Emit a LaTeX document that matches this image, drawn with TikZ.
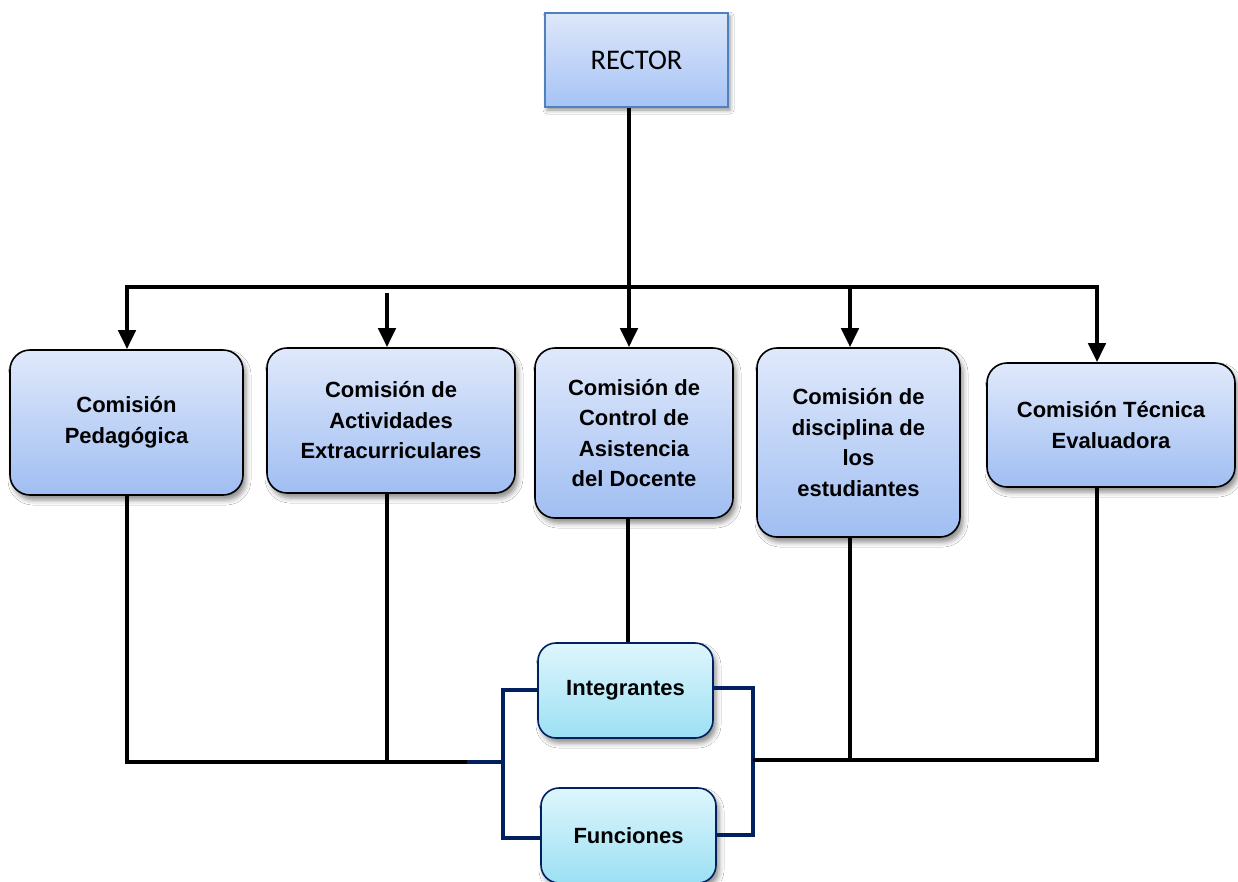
\documentclass[tikz,border=0pt]{standalone}
\usepackage{fontspec}
\setmainfont{Liberation Sans}
\newfontfamily\carlito{Carlito}
\usetikzlibrary{arrows.meta,shadows,shadows.blur,calc}
\definecolor{comtop}{RGB}{224,233,251}
\definecolor{combot}{RGB}{160,190,242}
\definecolor{rectop}{RGB}{222,231,250}
\definecolor{recbot}{RGB}{166,195,245}
\definecolor{recline}{RGB}{79,129,189}
\definecolor{cyantop}{RGB}{222,246,252}
\definecolor{cyanbot}{RGB}{156,224,244}
\definecolor{navy}{RGB}{0,32,96}
\begin{document}
\begin{tikzpicture}[x=1pt,y=-1pt,
  combox/.style={draw=black, line width=1.6pt, rounded corners=20pt,
    top color=comtop, bottom color=combot, align=center,
    font=\fontsize{22}{30.5}\selectfont\bfseries,
    blur shadow={shadow xshift=3pt, shadow yshift=-5pt, shadow blur radius=5pt, shadow opacity=45}},
  subbox/.style={draw=navy, line width=1.6pt, rounded corners=18pt,
    top color=cyantop, bottom color=cyanbot, align=center,
    minimum width=175pt, minimum height=95pt,
    font=\fontsize{22}{28}\selectfont\bfseries,
    blur shadow={shadow xshift=3pt, shadow yshift=-5pt, shadow blur radius=5pt, shadow opacity=45}},
  rectorbox/.style={draw=recline, line width=1.2pt, top color=rectop, bottom color=recbot,
    minimum width=183pt, minimum height=94pt, font=\carlito\fontsize{28.5}{30}\selectfont,
    blur shadow={shadow xshift=2pt, shadow yshift=-3pt, shadow blur radius=4pt, shadow opacity=45}},
  conn/.style={draw=black, line width=4.3pt},
  navyconn/.style={draw=navy, line width=4pt},
  arr/.style={conn, -{Triangle[width=17pt,length=19pt]}}
]
\useasboundingbox (0,0) rectangle (1238,881);
\fill[white] (0,0) rectangle (1238,881);

\node[rectorbox] (rector) at (636.5,60) {RECTOR};

\node[combox, minimum width=233pt, minimum height=145pt] (p1) at (126.5,422.5) {Comisión\\Pedagógica};
\node[combox, minimum width=248pt, minimum height=145pt] (p2) at (391,420.5) {Comisión de\\Actividades\\Extracurriculares};
\node[combox, minimum width=198pt, minimum height=170pt] (p3) at (634,433) {Comisión de\\Control de\\Asistencia\\del Docente};
\node[combox, minimum width=203pt, minimum height=189pt] (p4) at (858.5,442.5) {Comisión de\\disciplina de\\los\\estudiantes};
\node[combox, minimum width=248pt, minimum height=124pt] (p5) at (1111,425) {Comisión Técnica\\Evaluadora};

\node[subbox] (integ) at (625.5,690.5) {Integrantes};
\node[subbox] (func) at (628.5,835.5) {Funciones};

% top distribution
\coordinate (tl) at (127,287);
\coordinate (tr) at (1097,287);
\coordinate (tc) at (629,287);
\draw[conn] (629,0 |- rector.south) -- (tc);
\draw[conn, line cap=rect] (tl) -- (tr);
\draw[arr] (tl) -- (127,0 |- p1.north);
\draw[arr] (387,293) -- (387,0 |- p2.north);
\draw[arr] (tc) -- (629,0 |- p3.north);
\draw[arr] (850,287) -- (850,0 |- p4.north);
\draw[arr] (tr) -- (1097,0 |- p5.north);

% bottom
\coordinate (bl) at (127,762);
\coordinate (bm) at (387,762);
\coordinate (bj) at (467,762);
\draw[conn, line join=miter] (127,0 |- p1.south) -- (bl) -- (bj);
\draw[conn] (387,0 |- p2.south) -- (bm);
\draw[conn] (628,0 |- p3.south) -- (628,0 |- integ.north);
\draw[navyconn] (bj) -- (503,762);
\draw[navyconn, line join=miter] (integ.west |- 0,690) -- (503,690) -- (503,838) -- (func.west |- 0,838);
\draw[navyconn, line join=miter] (integ.east |- 0,688) -- (753,688) -- (753,835) -- (func.east |- 0,835);
\coordinate (br) at (1097,760);
\draw[conn, line join=miter] (753,760) -- (br) -- (1097,0 |- p5.south);
\draw[conn] (850,760) -- (850,0 |- p4.south);
\end{tikzpicture}
\end{document}
